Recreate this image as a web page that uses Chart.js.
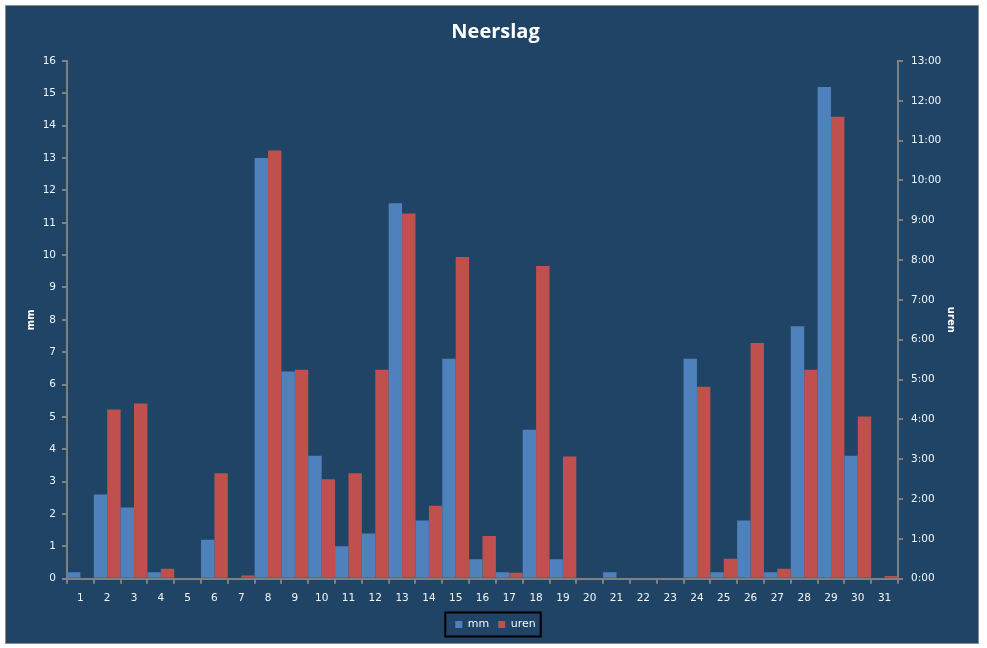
<!DOCTYPE html>
<html>
<head>
<meta charset="utf-8">
<script src="https://cdn.jsdelivr.net/npm/chart.js@4"></script>
<style>
  html, body { margin: 0; padding: 0; background: #ffffff; }
  #wrap {
    position: absolute; left: 5px; top: 5px;
    width: 972px; height: 637px;
    background: #204466;
    border: 1px solid #8c8c8c;
  }
  #c { display: block; }
</style>
</head>
<body>
<div id="wrap"><canvas id="c" width="972" height="637"></canvas></div>
<script>
const days = ['1','2','3','4','5','6','7','8','9','10','11','12','13','14','15','16','17','18','19','20','21','22','23','24','25','26','27','28','29','30','31'];
const mm = [0.2, 2.6, 2.2, 0.2, 0, 1.2, 0, 13.0, 6.4, 3.8, 1.0, 1.4, 11.6, 1.8, 6.8, 0.6, 0.2, 4.6, 0.6, 0, 0.2, 0, 0, 6.8, 0.2, 1.8, 0.2, 7.8, 15.2, 3.8, 0];
// uren in decimal hours
const uren = [0, 4.25, 4.4, 0.25, 0, 2.65, 0.08, 10.75, 5.25, 2.5, 2.65, 5.25, 9.17, 1.83, 8.08, 1.07, 0.15, 7.85, 3.07, 0, 0, 0, 0, 4.82, 0.5, 5.92, 0.25, 5.25, 11.6, 4.07, 0.07];
const mmTicksMax = 16;
const urenTicksMax = 13;

const txt = '#f2f6fa';
const axisGray = '#808080';
const tickFont = { family: 'DejaVu Sans', size: 10.5 };

const legendBox = {
  id: 'legendBox',
  afterDraw(chart) {
    const lg = chart.legend;
    if (!lg || !lg.legendHitBoxes || !lg.legendHitBoxes.length) return;
    const hb = lg.legendHitBoxes;
    const first = hb[0], last = hb[hb.length - 1];
    const cy = first.top + first.height / 2;
    const ctx = chart.ctx;
    ctx.save();
    ctx.strokeStyle = '#000000';
    ctx.lineWidth = 2;
    ctx.strokeRect(first.left - 10, cy - 12, (last.left + last.width + 5) - (first.left - 10), 24);
    ctx.restore();
  }
};

new Chart(document.getElementById('c'), {
  type: 'bar',
  data: {
    labels: days,
    datasets: [
      { label: 'mm', data: mm, yAxisID: 'y', backgroundColor: '#4f81bd', borderWidth: 0, inflateAmount: 0,
        categoryPercentage: 1.0, barPercentage: 1.0 },
      { label: 'uren', data: uren, yAxisID: 'y1', backgroundColor: '#c0504d', borderWidth: 0, inflateAmount: 0,
        categoryPercentage: 1.0, barPercentage: 1.0 }
    ]
  },
  options: {
    responsive: false,
    animation: false,
    devicePixelRatio: 1,
    layout: { padding: { left: 14, right: 7, top: 0, bottom: 3 } },
    plugins: {
      title: {
        display: true, text: 'Neerslag', color: '#ffffff',
        font: { family: 'Open Sans', size: 20, weight: 'bold' },
        padding: { top: 14, bottom: 17 }
      },
      legend: {
        position: 'bottom',
        labels: {
          color: txt, boxWidth: 7, boxHeight: 7, padding: 9,
          font: { family: 'DejaVu Sans', size: 11 }
        }
      },
      tooltip: { enabled: false }
    },
    scales: {
      x: {
        type: 'category',
        grid: { display: true, drawOnChartArea: false, drawTicks: true, tickLength: 5, color: axisGray, lineWidth: 2, offset: true },
        border: { display: true, color: axisGray, width: 2 },
        ticks: { color: txt, font: tickFont, padding: 8, maxRotation: 0, autoSkip: false },
        afterFit(s) { s.height = 31.3; }
      },
      y: {
        position: 'left', min: 0, max: mmTicksMax,
        grid: { display: true, drawOnChartArea: false, drawTicks: true, tickLength: 5, color: axisGray, lineWidth: 2 },
        border: { display: true, color: axisGray, width: 2 },
        ticks: { stepSize: 1, color: txt, font: tickFont, padding: 6 },
        title: { display: true, text: 'mm', color: '#ffffff', font: { family: 'DejaVu Sans', size: 10, weight: 'bold' }, padding: { top: 5, bottom: 0 } },
        afterFit(s) { s.width = 47; }
      },
      y1: {
        position: 'right', min: 0, max: urenTicksMax,
        grid: { display: true, drawOnChartArea: false, drawTicks: true, tickLength: 5, color: axisGray, lineWidth: 2 },
        border: { display: true, color: axisGray, width: 2 },
        ticks: { stepSize: 1, color: txt, font: tickFont, padding: 8, callback: (v) => v + ':00' },
        title: { display: true, text: 'uren', color: '#ffffff', font: { family: 'DejaVu Sans', size: 10, weight: 'bold' }, padding: { top: 14, bottom: 0 } },
        afterFit(s) { s.width = 73; }
      }
    }
  },
  plugins: [legendBox]
});
</script>
</body>
</html>
